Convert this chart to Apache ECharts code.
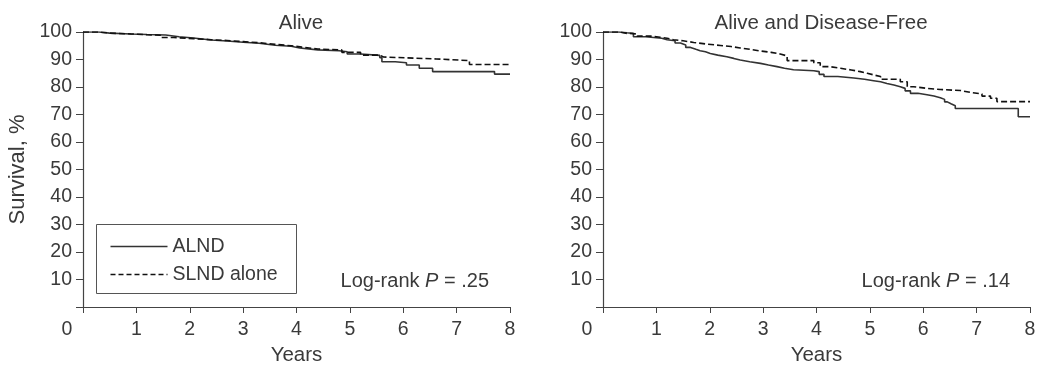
<!DOCTYPE html>
<html><head><meta charset="utf-8">
<script src="https://cdn.jsdelivr.net/npm/echarts@6/dist/echarts.min.js"></script>
<style>html,body{margin:0;padding:0;background:#fff}#c{width:1043px;height:371px}</style>
</head><body><div id="c"></div>
<script>
// Panel titles and labels
const panelTitles = ['Alive', 'Alive and Disease-Free'];
const pValues = ['.25', '.14'];
const seriesNames = ['ALND', 'SLND alone'];

// Alive – ALND
const aliveAlndT = [0, 0.3, 0.5, 0.9, 1.2, 1.55, 1.8, 2.07, 2.4, 2.7, 3.0, 3.3, 3.6, 3.9, 4.06, 4.4, 4.8, 4.95, 5.2, 5.56, 5.6, 5.85, 6.06, 6.3, 6.55, 7.71, 8.0];
const aliveAlndV = [100, 99.6, 99.3, 99.1, 98.9, 98.3, 97.8, 97.1, 96.7, 96.3, 95.9, 95.2, 94.8, 94.2, 93.5, 93.2, 92.8, 92.0, 91.5, 90.7, 89.2, 88.8, 88.0, 86.8, 85.6, 84.7, 84.7];
// Alive – SLND alone
const aliveSlndT = [0, 0.3, 0.5, 0.9, 1.2, 1.45, 1.7, 2.07, 2.4, 2.7, 3.0, 3.3, 3.6, 3.9, 4.1, 4.4, 4.85, 5.2, 5.56, 5.63, 6.62, 7.24, 8.0];
const aliveSlndV = [100, 99.6, 99.3, 99.0, 98.8, 98.0, 97.6, 97.2, 96.9, 96.5, 96.1, 95.5, 95.0, 94.5, 93.8, 93.5, 92.6, 91.6, 90.9, 90.2, 89.6, 88.2, 88.2];
// Alive and Disease-Free – ALND
const dfsAlndT = [0, 0.3, 0.45, 0.57, 0.8, 0.95, 1.1, 1.2, 1.35, 1.45, 1.55, 1.64, 1.74, 1.82, 1.92, 2.01, 2.15, 2.32, 2.45, 2.57, 2.75, 2.95, 3.1, 3.26, 3.4, 3.57, 3.95, 4.05, 4.14, 4.4, 4.7, 4.9, 5.07, 5.2, 5.32, 5.45, 5.57, 5.66, 5.76, 5.9, 6.07, 6.2, 6.32, 6.4, 6.45, 6.52, 6.6, 7.78, 8];
const dfsAlndV = [100, 99.7, 99.5, 98.3, 98.0, 97.7, 97.2, 96.8, 96.0, 95.3, 94.4, 93.7, 93.2, 92.8, 92.2, 91.6, 91.0, 90.4, 89.8, 89.2, 88.6, 88.0, 87.4, 86.8, 86.3, 85.9, 85.6, 84.6, 83.8, 83.3, 82.8, 82.3, 81.9, 81.3, 80.7, 80.1, 79.5, 78.6, 77.7, 77.2, 76.7, 76.1, 75.5, 74.6, 73.9, 73.2, 72.2, 69.2, 69.2];
// Alive and Disease-Free – SLND alone
const dfsSlndT = [0, 0.3, 0.45, 0.64, 0.9, 1.07, 1.2, 1.32, 1.5, 1.7, 1.95, 2.2, 2.4, 2.57, 2.75, 2.95, 3.15, 3.32, 3.45, 3.95, 4.07, 4.25, 4.45, 4.65, 4.82, 4.95, 5.07, 5.2, 5.57, 5.7, 5.82, 6.07, 6.32, 6.7, 6.9, 7.1, 7.26, 7.38, 8];
const dfsSlndV = [100, 99.5, 99.3, 98.5, 98.1, 97.7, 97.2, 96.8, 96.2, 95.6, 95.1, 94.7, 94.2, 93.7, 93.1, 92.6, 92.0, 91.3, 89.6, 88.8, 87.4, 86.8, 86.2, 85.6, 85.0, 84.4, 83.8, 82.8, 81.9, 80.1, 79.5, 79.1, 78.7, 78.0, 77.5, 76.7, 75.9, 74.7, 74.7];

const zip = (t, v) => t.map((x, i) => [x, v[i]]);
const FONT = 'Liberation Sans, Arial, sans-serif';
const TXT = '#3a3a3a';
const AX = '#444';

function xAxis(idx) {
  return {
    gridIndex: idx, type: 'value', min: 0, max: 8, interval: 1,
    name: 'Years', nameLocation: 'middle', nameGap: 38,
    nameTextStyle: { fontSize: 20.5, color: TXT, fontFamily: FONT },
    axisLine: { lineStyle: { color: AX, width: 1.2 } },
    axisTick: { length: 6, lineStyle: { color: AX } },
    splitLine: { show: false },
    axisLabel: {
      fontSize: 19.5, color: TXT, fontFamily: FONT, margin: 13,
      formatter: v => v === 0 ? '{o|0}' : String(v),
      rich: { o: { fontSize: 19.5, color: TXT, fontFamily: FONT, padding: [0, 32, 0, 0] } }
    }
  };
}
function yAxis(idx, named) {
  return {
    gridIndex: idx, type: 'value', min: 0, max: 100, interval: 10,
    name: named ? 'Survival, %' : '', nameLocation: 'middle', nameGap: 54,
    nameTextStyle: { fontSize: 22, color: TXT, fontFamily: FONT },
    axisLine: { show: true, lineStyle: { color: AX, width: 1.2 } },
    axisTick: { show: true, length: 7, lineStyle: { color: AX } },
    splitLine: { show: false },
    axisLabel: { fontSize: 19.5, color: TXT, fontFamily: FONT, margin: 11,
      formatter: v => v === 0 ? '' : String(v) }
  };
}
function line(name, data, idx, dashed) {
  return {
    name, type: 'line', step: 'end', xAxisIndex: idx, yAxisIndex: idx,
    data, symbol: 'none', showSymbol: false, animation: false,
    lineStyle: dashed ? { color: '#111', width: 1.6, type: [6, 3] } : { color: '#333', width: 1.6 },
    itemStyle: { color: dashed ? '#111' : '#333' }
  };
}
function pText(right, p) {
  return { type: 'text', right: right, top: 271,
    style: { text: 'Log-rank {i|P} = ' + p, fill: TXT, fontSize: 20, fontFamily: FONT,
      rich: { i: { fontStyle: 'italic', fontSize: 20, fontFamily: FONT, fill: TXT } } } };
}

const chart = echarts.init(document.getElementById('c'), null, { renderer: 'canvas' });
chart.setOption({
  animation: false,
  grid: [
    { left: 83, right: 533, top: 32, bottom: 64 },
    { left: 603, right: 13, top: 32, bottom: 64 }
  ],
  title: [
    { text: panelTitles[0], left: 296, top: 8, textAlign: 'center',
      textStyle: { fontSize: 20.5, fontWeight: 'normal', color: TXT, fontFamily: FONT } },
    { text: panelTitles[1], left: 816, top: 8, textAlign: 'center',
      textStyle: { fontSize: 20.5, fontWeight: 'normal', color: TXT, fontFamily: FONT } }
  ],
  xAxis: [xAxis(0), xAxis(1)],
  yAxis: [yAxis(0, true), yAxis(1, false)],
  series: [
    line(seriesNames[0], zip(aliveAlndT, aliveAlndV), 0, false),
    line(seriesNames[1], zip(aliveSlndT, aliveSlndV), 0, true),
    line(seriesNames[0], zip(dfsAlndT, dfsAlndV), 1, false),
    line(seriesNames[1], zip(dfsSlndT, dfsSlndV), 1, true)
  ],
  graphic: [
    { type: 'group', left: 96, top: 224, children: [
      { type: 'rect', shape: { x: 0, y: 0, width: 200, height: 69 },
        style: { fill: '#fff', stroke: '#555', lineWidth: 1 } },
      { type: 'line', shape: { x1: 14, y1: 22, x2: 71, y2: 22 }, style: { stroke: '#333', lineWidth: 1.6 } },
      { type: 'line', shape: { x1: 14, y1: 50, x2: 71, y2: 50 }, style: { stroke: '#111', lineWidth: 1.6, lineDash: [5, 3] } },
      { type: 'text', x: 76, y: 22, style: { text: seriesNames[0], fill: TXT, fontSize: 19.5, fontFamily: FONT, verticalAlign: 'middle' } },
      { type: 'text', x: 76, y: 50, style: { text: seriesNames[1], fill: TXT, fontSize: 19.5, fontFamily: FONT, verticalAlign: 'middle' } }
    ] },
    pText(1043 - 489, pValues[0]),
    pText(1043 - 1010, pValues[1])
  ]
});
</script></body></html>
